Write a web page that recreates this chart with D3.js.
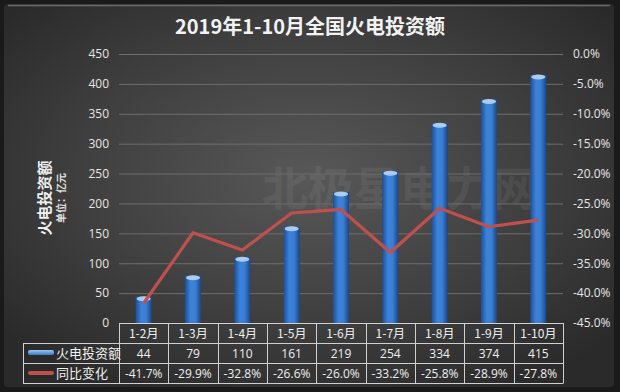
<!DOCTYPE html>
<html><head><meta charset="utf-8">
<script src="https://cdn.jsdelivr.net/npm/d3@7"></script>
<style>html,body{margin:0;padding:0;background:#1c1c1c;}svg{display:block;}</style>
</head><body>
<script>
const categories = ["1-2月","1-3月","1-4月","1-5月","1-6月","1-7月","1-8月","1-9月","1-10月"];
const investment = [44,79,110,161,219,254,334,374,415];
const yoyChange = [-41.7,-29.9,-32.8,-26.6,-26.0,-33.2,-25.8,-28.9,-27.8];
const leftTicks = [0,50,100,150,200,250,300,350,400,450];
const rightTicks = [0,-5,-10,-15,-20,-25,-30,-35,-40,-45];
const title = "2019年1-10月全国火电投资额";
const seriesNames = ["火电投资额","同比变化"];

const W=620,H=392;
const svg=d3.select("body").append("svg").attr("width",W).attr("height",H);
const defs=svg.append("defs");
const rg=defs.append("radialGradient").attr("id","bg").attr("cx","50%").attr("cy","45%").attr("r","65%");
rg.append("stop").attr("offset","0%").attr("stop-color","#585858");
rg.append("stop").attr("offset","60%").attr("stop-color","#3e3e3e");
rg.append("stop").attr("offset","100%").attr("stop-color","#2a2a2a");
const bg=defs.append("linearGradient").attr("id","bar").attr("x1","0").attr("x2","1");
bg.append("stop").attr("offset","0%").attr("stop-color","#1f4f95");
bg.append("stop").attr("offset","35%").attr("stop-color","#3c82d8");
bg.append("stop").attr("offset","65%").attr("stop-color","#3a7fd4");
bg.append("stop").attr("offset","100%").attr("stop-color","#1b4587");
const lg=defs.append("linearGradient").attr("id","legBar").attr("x1","0").attr("x2","0").attr("y1","0").attr("y2","1");
lg.append("stop").attr("offset","0%").attr("stop-color","#9fc6f2");
lg.append("stop").attr("offset","100%").attr("stop-color","#3a78c8");

svg.append("rect").attr("x",0).attr("y",0).attr("width",W).attr("height",H).attr("fill","#1a1a1a");
svg.append("rect").attr("x",4).attr("y",4).attr("width",W-10).attr("height",H-9).attr("rx",4).attr("fill","url(#bg)");
svg.append("line").attr("x1",8).attr("x2",W-10).attr("y1",5.5).attr("y2",5.5).attr("stroke","#6a6a6a").attr("stroke-width",1.5);

const font="'Microsoft YaHei','Noto Sans CJK SC','DejaVu Sans',sans-serif";
svg.append("text").attr("x",310).attr("y",34).attr("text-anchor","middle").attr("fill","#f2f2f2")
  .attr("font-family",font).attr("font-weight","bold").attr("font-size",20).text(title);

// watermark
svg.append("text").attr("x",400).attr("y",205).attr("text-anchor","middle").attr("fill","#ffffff").attr("opacity",0.06)
  .attr("font-family",font).attr("font-weight","bold").attr("font-size",46).text("北极星电力网");

const x0=119,x1=563,yTop=54,yBot=323;
const x=d3.scaleBand().domain(categories).range([x0,x1]);
const yL=d3.scaleLinear().domain([0,450]).range([yBot,yTop]);
const yR=d3.scaleLinear().domain([-45,0]).range([yBot,yTop]);

// gridlines
svg.append("g").selectAll("line").data(leftTicks.filter(d=>d>0)).join("line")
  .attr("x1",x0).attr("x2",x1).attr("y1",d=>yL(d)+0.5).attr("y2",d=>yL(d)+0.5)
  .attr("stroke","#6e6e6e").attr("stroke-width",1);

// left axis
const la=svg.append("g").attr("transform",`translate(${x0},0)`)
  .call(d3.axisLeft(yL).tickValues(leftTicks).tickSize(0).tickPadding(10));
la.select(".domain").remove();
la.selectAll("text").attr("fill","#e6e6e6").attr("font-size",12).attr("font-family","'Segoe UI','Open Sans','DejaVu Sans',sans-serif");

// right axis
const ra=svg.append("g").attr("transform",`translate(${x1},0)`)
  .call(d3.axisRight(yR).tickValues(rightTicks).tickSize(0).tickPadding(10).tickFormat(d=>d.toFixed(1)+"%"));
ra.select(".domain").remove();
ra.selectAll("text").attr("fill","#e6e6e6").attr("font-size",12).attr("font-family","'Segoe UI','Open Sans','DejaVu Sans',sans-serif");

// y axis title
const yt=svg.append("g").attr("transform","translate(50,198) rotate(-90)");
yt.append("text").attr("text-anchor","middle").attr("fill","#f0f0f0").attr("font-family",font).attr("font-weight","bold").attr("font-size",15).text("火电投资额");
yt.append("text").attr("y",15).attr("text-anchor","middle").attr("fill","#e0e0e0").attr("font-family",font).attr("font-weight","bold").attr("font-size",10).text("单位：亿元");

// bars
const bw=16;
const bars=svg.append("g").selectAll("g").data(investment).join("g");
bars.append("rect").attr("x",(d,i)=>x(categories[i])+x.bandwidth()/2-bw/2).attr("y",d=>yL(d))
  .attr("width",bw).attr("height",d=>yBot-yL(d)).attr("fill","url(#bar)");
bars.append("ellipse").attr("cx",(d,i)=>x(categories[i])+x.bandwidth()/2).attr("cy",d=>yL(d)+2)
  .attr("rx",bw/2-1).attr("ry",2.5).attr("fill","#a9ccf3");

// line
const line=d3.line().x((d,i)=>x(categories[i])+x.bandwidth()/2).y(d=>yR(d));
svg.append("path").datum(yoyChange).attr("d",line).attr("fill","none").attr("stroke","#c0504d")
  .attr("stroke-width",3.2).attr("stroke-linejoin","round");

// table
const rows=[yBot,343,363,383];
const tg=svg.append("g");
tg.append("rect").attr("x",x0).attr("y",yBot).attr("width",x1-x0).attr("height",20).attr("fill","#404040").attr("opacity",0.0);
const grid="#d0d0d0";
// horizontal lines
tg.append("line").attr("x1",x0).attr("x2",x1).attr("y1",rows[0]+0.5).attr("y2",rows[0]+0.5).attr("stroke",grid);
[1,2,3].forEach(k=>tg.append("line").attr("x1",23).attr("x2",x1).attr("y1",rows[k]+0.5).attr("y2",rows[k]+0.5).attr("stroke",grid));
// vertical lines
tg.append("line").attr("x1",23.5).attr("x2",23.5).attr("y1",rows[1]).attr("y2",rows[3]+0.5).attr("stroke",grid);
tg.selectAll("line.v").data(categories.map(c=>x(c)).concat([x1])).join("line").attr("class","v")
  .attr("x1",d=>Math.round(d)+0.5).attr("x2",d=>Math.round(d)+0.5).attr("y1",rows[0]).attr("y2",rows[3]+0.5).attr("stroke",grid);

const cellFont="'Segoe UI','Open Sans','DejaVu Sans',sans-serif";
tg.selectAll("text.h").data(categories).join("text").attr("class","h")
  .attr("x",d=>x(d)+x.bandwidth()/2).attr("y",rows[0]+15).attr("text-anchor","middle").attr("fill","#f0f0f0")
  .attr("font-family",font).attr("font-size",12).text(d=>d);
tg.selectAll("text.v1").data(investment).join("text").attr("class","v1")
  .attr("x",(d,i)=>x(categories[i])+x.bandwidth()/2).attr("y",rows[1]+15).attr("text-anchor","middle").attr("fill","#f0f0f0")
  .attr("font-family",cellFont).attr("font-size",12).text(d=>d);
tg.selectAll("text.v2").data(yoyChange).join("text").attr("class","v2")
  .attr("x",(d,i)=>x(categories[i])+x.bandwidth()/2).attr("y",rows[2]+15).attr("text-anchor","middle").attr("fill","#f0f0f0")
  .attr("font-family",cellFont).attr("font-size",12).text(d=>d.toFixed(1)+"%");

// legend keys
tg.append("rect").attr("x",28).attr("y",rows[1]+7).attr("width",26).attr("height",5).attr("rx",2).attr("fill","url(#legBar)");
tg.append("rect").attr("x",28).attr("y",rows[2]+8).attr("width",26).attr("height",4).attr("rx",2).attr("fill","#c0504d");
tg.append("text").attr("x",56).attr("y",rows[1]+15).attr("fill","#f0f0f0").attr("font-family",font).attr("font-size",13).text(seriesNames[0]);
tg.append("text").attr("x",56).attr("y",rows[2]+15).attr("fill","#f0f0f0").attr("font-family",font).attr("font-size",13).text(seriesNames[1]);
</script>
</body></html>
